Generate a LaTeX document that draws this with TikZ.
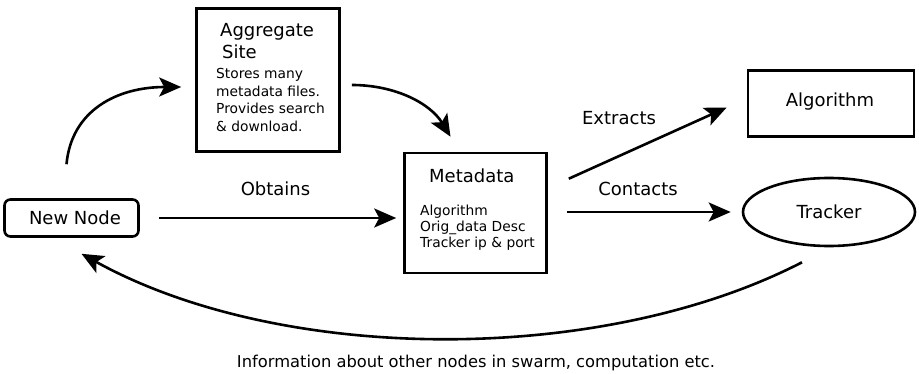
\documentclass[tikz,border=0pt]{standalone}
\usepackage{fontspec}
\setmainfont{DejaVu Sans}
\usetikzlibrary{arrows.meta,shapes.geometric,calc}
\begin{document}
\begin{tikzpicture}[x=1pt,y=-1pt,
  big/.style={font=\fontsize{18}{21}\selectfont, inner sep=0pt},
  captext/.style={font=\fontsize{16.3}{19}\selectfont, inner sep=0pt},
  small/.style={font=\fontsize{13.8}{16}\selectfont, inner sep=0pt},
  boxed/.style={draw, line width=2.6pt, inner sep=0pt},
  arr/.style={line width=2.6pt, -{Stealth[length=22pt,width=19pt,inset=5pt]}}]
\useasboundingbox (0,0) rectangle (919,374);
% nodes
\node[boxed, minimum width=143pt, minimum height=143pt] (agg) at (268,80) {};
\node[big, anchor=base west] (aggt1) at (220,37) {Aggregate};
\node[big, anchor=base west] (aggt2) at (222,59) {Site};
\node[small, anchor=base west] (aggs1) at (216,79) {Stores many};
\node[small, anchor=base west] (aggs2) at (216,96.5) {metadata files.};
\node[small, anchor=base west] (aggs3) at (216,114) {Provides search};
\node[small, anchor=base west] (aggs4) at (216,131.5) {\& download.};

\node[boxed, minimum width=142pt, minimum height=120pt] (meta) at (475.5,213) {};
\node[big, anchor=base west] (metat) at (429,183) {Metadata};
\node[small, anchor=base west] (metas1) at (420,216) {Algorithm};
\node[small, anchor=base west] (metas2) at (420,232) {Orig\_data Desc};
\node[small, anchor=base west] (metas3) at (420,248) {Tracker ip \& port};

\node[boxed, rounded corners=6pt, minimum width=134pt, minimum height=37pt] (new) at (71.5,218) {};
\node[big] (newt) at (75,218) {New Node};

\node[boxed, minimum width=166pt, minimum height=66pt] (algo) at (831,103.5) {};
\node[big] (algot) at (830,102) {Algorithm};

\node[draw, line width=2.6pt, ellipse, minimum width=172pt, minimum height=68pt, inner sep=0pt] (trk) at (829,212) {};
\node[big] (trkt) at (829,212) {Tracker};

% labels
\node[big, anchor=base] (lobt) at (275.5,196) {Obtains};
\node[big, anchor=base] (lext) at (619,125) {Extracts};
\node[big, anchor=base] (lcon) at (638,196) {Contacts};
\node[captext, anchor=base] (lcap) at (476,367) {Information about other nodes in swarm, computation etc.};

% connectors
\draw[arr, shorten <=19pt, shorten >=7pt] (new.east) -- (meta.west |- new.east);
\draw[arr, shorten <=19pt, shorten >=11pt] (meta.east |- trk.west) -- (trk.west);
\draw[arr] ($(meta.north east)+(21,27)$) -- ($(algo.west)+(-20,4)$);
\draw[arr] ($(new.north)+(-5,-34)$) .. controls ($(new.north)+(0,-88)$) and ($(agg.west)+(-78,7)$) .. ($(agg.west)+(-14,7)$);
\draw[arr] ($(agg.east)+(11,5)$) .. controls ($(agg.east)+(55,5)$) and ($(meta.north)+(-45,-48)$) .. ($(meta.north)+(-25,-15)$);
\draw[arr] ($(trk.south)+(-27,15)$) .. controls ($(trk.south)+(-229,119)$) and ($(new.south)+(209,126)$) .. ($(new.south)+(10,16)$);
\end{tikzpicture}
\end{document}
